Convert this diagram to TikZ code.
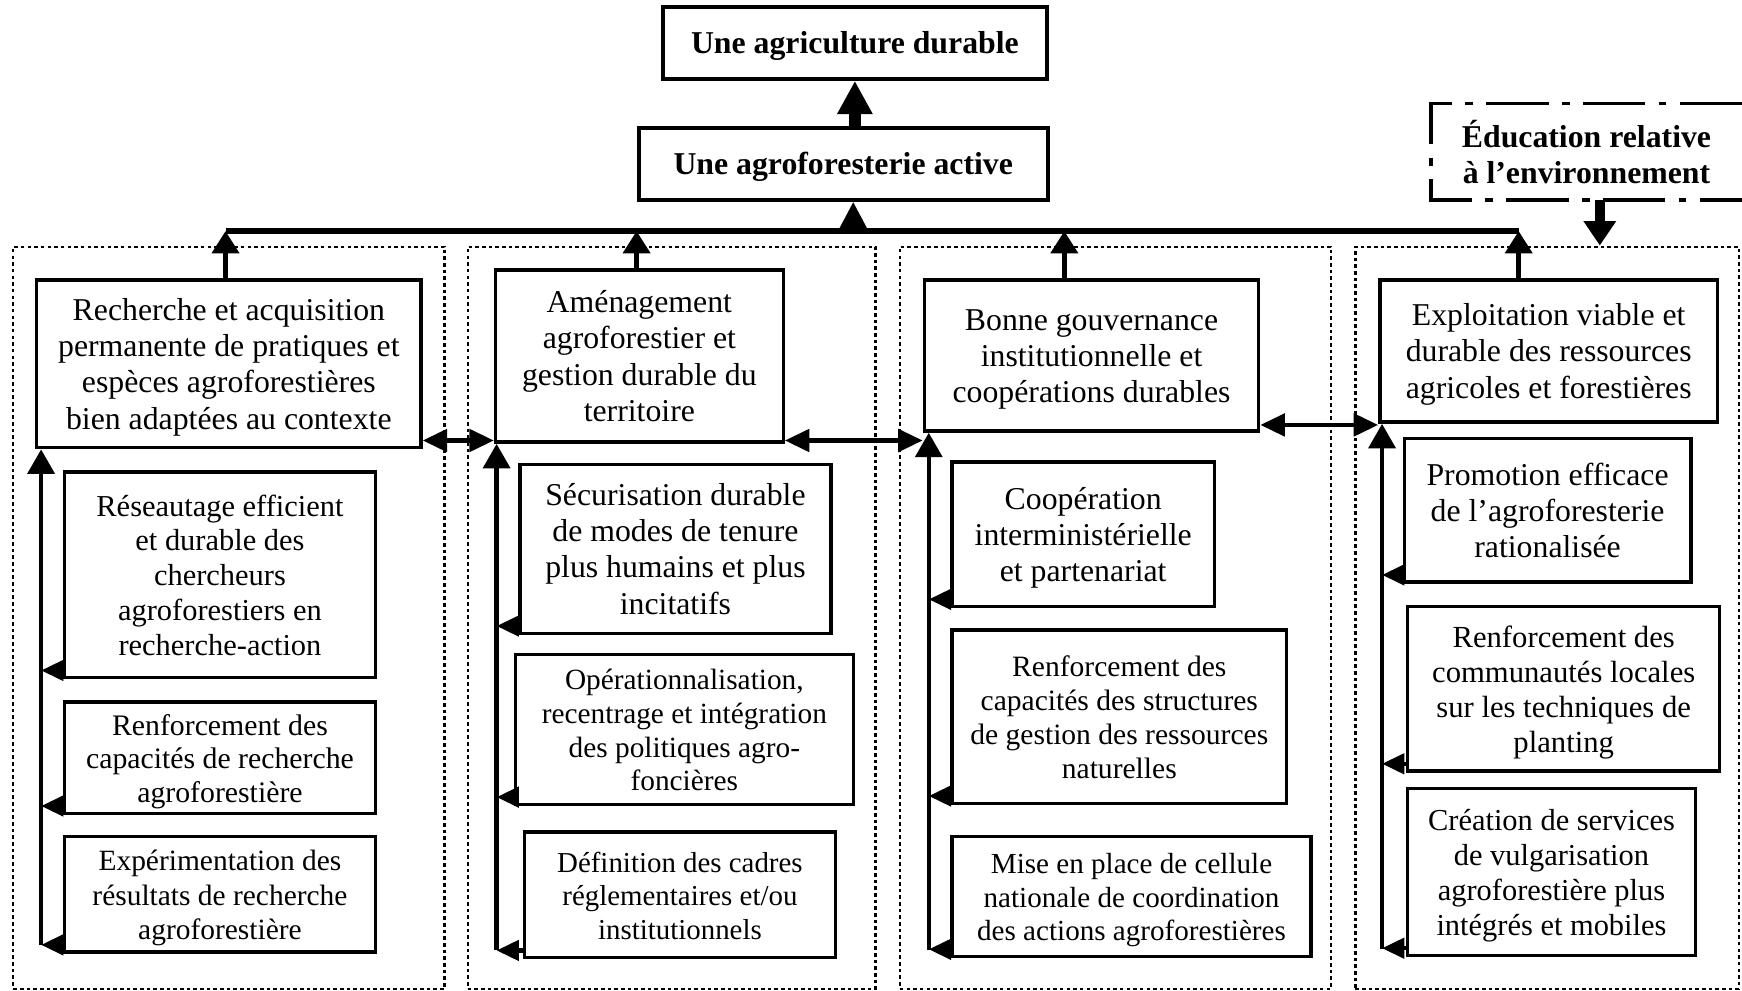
\documentclass[tikz,border=0pt]{standalone}
\usepackage{fontspec}
\setmainfont{Liberation Serif}
\usetikzlibrary{arrows.meta}
\newcommand\myT{\rule{0pt}{13.4pt}}
\newcommand\myB{\rule[-3.6pt]{0pt}{0pt}}
\begin{document}
\begin{tikzpicture}[x=0.5pt,y=-0.5pt,
  fs/.style 2 args={font=\fontsize{#1}{#2}\selectfont},
  box/.style={draw, line width=1.5pt, align=center, inner sep=0pt, fs={14.3pt}{16.3pt}},
  topbox/.style={box, line width=1.8pt, font=\bfseries\fontsize{14.3pt}{16.3pt}\selectfont},
  panel/.style={draw, line width=1pt, dash pattern=on 1.6pt off 1.4pt, inner sep=0pt},
  edubox/.style={line width=1.6pt, dash pattern=on 28pt off 6pt on 3.5pt off 6pt},
  bigarrow/.style={line width=5.5pt, -{Triangle[length=15pt,width=15pt]}},
  headonly/.style={line width=2.5pt, -{Triangle[length=14pt,width=14pt]}},
  eduarrow/.style={line width=4.5pt, -{Triangle[length=11pt,width=14pt]}},
  busline/.style={line width=2.6pt},
  uparrow/.style={line width=2.2pt, -{Triangle[length=10pt,width=12pt]}},
  spine/.style={line width=2pt, -{Triangle[length=11pt,width=12pt]}},
  sidearrow/.style={line width=2pt, -{Triangle[length=10pt,width=9pt]}},
  dblarrow/.style={line width=2pt, {Triangle[length=11pt,width=10pt]}-{Triangle[length=11pt,width=10pt]}}
]
\useasboundingbox (0,0) rectangle (1568,892);

% dotted panels
\node[panel, minimum width=194pt, minimum height=334pt] (P1) at (206,556) {};
\node[panel, minimum width=183.5pt, minimum height=334pt] (P2) at (604.5,556) {};
\node[panel, minimum width=194pt, minimum height=334pt] (P3) at (1004,556) {};
\node[panel, minimum width=172.5pt, minimum height=334pt] (P4) at (1392.5,556) {};

% top boxes
\node[topbox, minimum width=172.5pt, minimum height=32.5pt] (A) at (769.5,38.5) {\myT Une agriculture durable\myB};
\node[topbox, minimum width=184pt, minimum height=32.5pt] (B) at (759,147.5) {\myT Une agroforesterie active\myB};

% education box (open on the right edge)
\draw[edubox] (1568,93) -- (1288,93) -- (1288,180) -- (1568,180);
\node[align=center, inner sep=0pt, font=\bfseries\fontsize{14.3pt}{16.3pt}\selectfont] (edu) at (1428,137) {Éducation relative\\à l’environnement};
\coordinate (edubot) at (1440,180);

% main boxes
\node[box, minimum width=173pt, minimum height=75.5pt] (M1) at (206,327.5) {\myT Recherche et acquisition\\permanente de pratiques et\\espèces agroforestières\\bien adaptées au contexte\myB};
\node[box, minimum width=129.5pt, minimum height=77.5pt] (M2) at (575.5,320.5) {\myT Aménagement\\agroforestier et\\gestion durable du\\territoire\myB};
\node[box, minimum width=150.5pt, minimum height=68pt] (M3) at (982.5,320) {\myT Bonne gouvernance\\institutionnelle et\\coopérations durables\myB};
\node[box, minimum width=152pt, minimum height=64pt] (M4) at (1394,316) {\myT Exploitation viable et\\durable des ressources\\agricoles et forestières\myB};

% sub boxes panel 1
\node[box, fs={13.7pt}{15.7pt}, minimum width=140pt, minimum height=92.5pt] (S11) at (198,517.5) {\myT Réseautage efficient\\et durable des\\chercheurs\\agroforestiers en\\recherche-action\myB};
\node[box, fs={13.4pt}{15.1pt}, minimum width=140pt, minimum height=50pt] (S12) at (198,682) {\myT Renforcement des\\capacités de recherche\\agroforestière\myB};
\node[box, fs={13.25pt}{15.6pt}, minimum width=140pt, minimum height=52pt] (S13) at (198,805) {\myT Expérimentation des\\résultats de recherche\\agroforestière\myB};

% sub boxes panel 2
\node[box, minimum width=140pt, minimum height=76pt] (S21) at (608,494) {\myT Sécurisation durable\\de modes de tenure\\plus humains et plus\\incitatifs\myB};
\node[box, fs={13.2pt}{15.2pt}, minimum width=152pt, minimum height=67.5pt] (S22) at (616,656.5) {\myT Opérationnalisation,\\recentrage et intégration\\des politiques agro-\\foncières\myB};
\node[box, fs={13pt}{15pt}, minimum width=140pt, minimum height=56.5pt] (S23) at (612,805.5) {\myT Définition des cadres\\réglementaires et/ou\\institutionnels\myB};

% sub boxes panel 3
\node[box, minimum width=118pt, minimum height=65pt] (S31) at (975,481) {\myT Coopération\\interministérielle\\et partenariat\myB};
\node[box, fs={13.3pt}{15.3pt}, minimum width=150.5pt, minimum height=78pt] (S32) at (1007.5,645) {\myT Renforcement des\\capacités des structures\\de gestion des ressources\\naturelles\myB};
\node[box, fs={13.1pt}{15.1pt}, minimum width=161.5pt, minimum height=54pt] (S33) at (1018.5,807) {\myT Mise en place de cellule\\nationale de coordination\\des actions agroforestières\myB};

% sub boxes panel 4
\node[box, minimum width=129pt, minimum height=64.5pt] (S41) at (1393,459.5) {\myT Promotion efficace\\de l’agroforesterie\\rationalisée\myB};
\node[box, fs={13.8pt}{15.8pt}, minimum width=140.5pt, minimum height=74pt] (S42) at (1407.5,620) {\myT Renforcement des\\communautés locales\\sur les techniques de\\planting\myB};
\node[box, fs={13.7pt}{15.7pt}, minimum width=129.5pt, minimum height=75pt] (S43) at (1396.5,785) {\myT Création de services\\de vulgarisation\\agroforestière plus\\intégrés et mobiles\myB};

% top arrows
\draw[bigarrow] (A.south |- B.north) -- (A.south);
\coordinate (busmid) at (768,208);
\draw[headonly] (busmid) -- (busmid |- B.south);

% bus and panel arrows
\coordinate (t1) at (203,208);
\coordinate (t2) at (573,208);
\coordinate (t3) at (958,208);
\coordinate (t4) at (1367,208);
\draw[busline] (t1) -- (t4);
\draw[uparrow] (t1 |- M1.north) -- (t1);
\draw[uparrow] (t2 |- M2.north) -- (t2);
\draw[uparrow] (t3 |- M3.north) -- (t3);
\draw[uparrow] (t4 |- M4.north) -- (t4);

% education arrow
\draw[eduarrow] (edubot) -- (edubot |- P4.north);

% double arrows between main boxes
\coordinate (h12) at ([yshift=4pt]M1.south east);
\coordinate (h23) at ([yshift=1.5pt]M2.south east);
\coordinate (h34) at ([yshift=3.5pt]M3.south east);
\draw[dblarrow] (h12) -- (h12 -| M2.west);
\draw[dblarrow] (h23) -- (h23 -| M3.west);
\draw[dblarrow] (h34) -- (h34 -| M4.west);

% spines
\coordinate (v1) at (37,851);
\coordinate (v2) at (447,855);
\coordinate (v3) at (836,855);
\coordinate (v4) at (1244,854);
\draw[spine] (v1) -- (v1 |- M1.south);
\draw[spine] (v2) -- (v2 |- M2.south);
\draw[spine] (v3) -- (v3 |- M3.south);
\draw[spine] (v4) -- (v4 |- M4.south);

% side arrows
\foreach \s/\v in {S11/v1,S12/v1,S13/v1,S21/v2,S22/v2,S23/v2,S31/v3,S32/v3,S33/v3,S41/v4,S42/v4,S43/v4}{
  \coordinate (a\s) at ([yshift=4pt]\s.south west);
  \draw[sidearrow] (a\s) -- (a\s -| \v);
}
\end{tikzpicture}
\end{document}
